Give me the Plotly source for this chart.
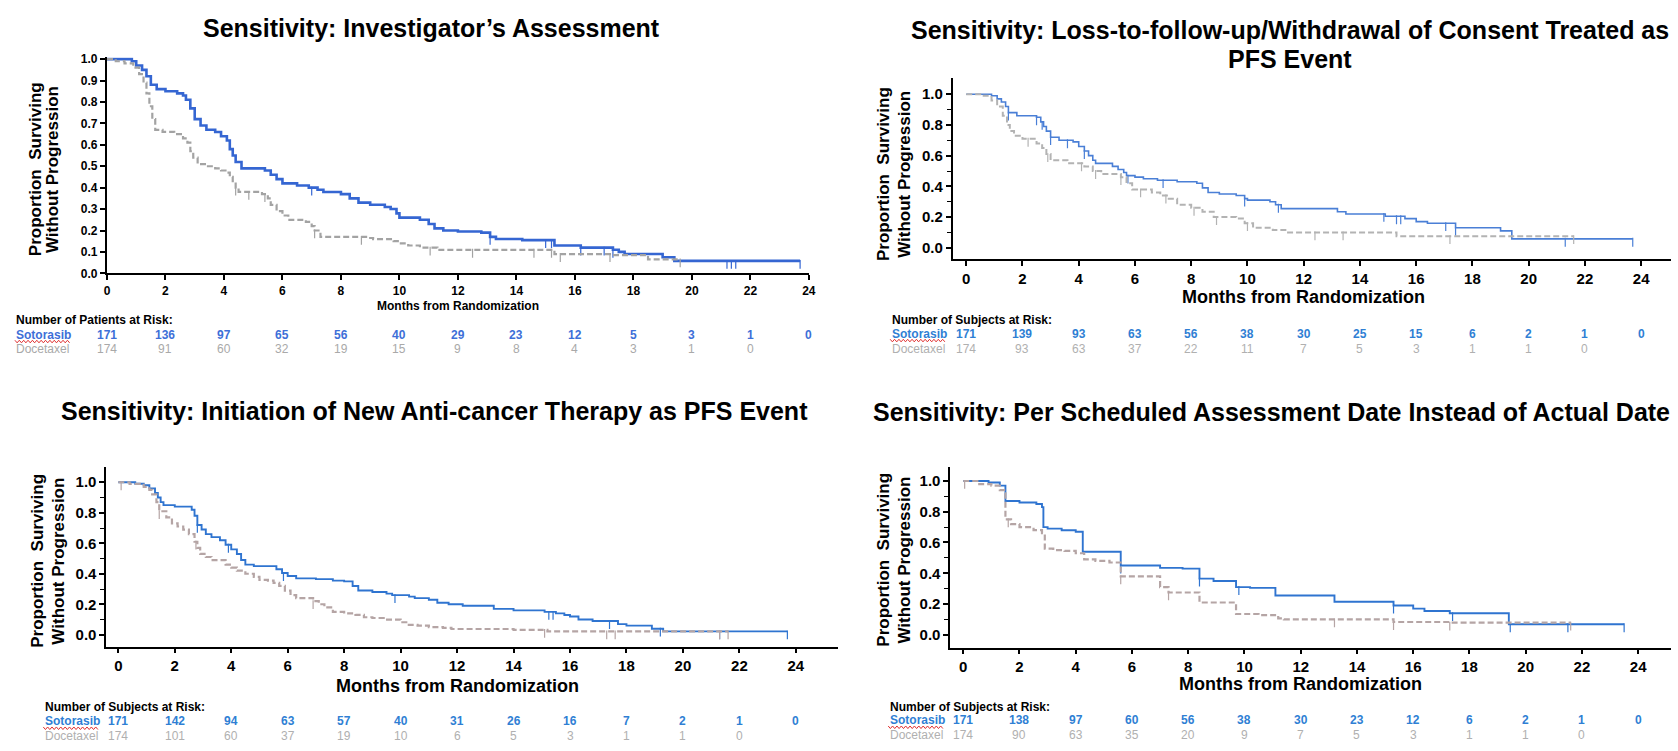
import numpy as np
import plotly.graph_objects as go

W, H = 1678, 751
FONT = "Liberation Sans, Arial, Helvetica, sans-serif"

months = list(range(0, 25, 2))

# ---------------- Sensitivity: Investigator's Assessment ----------------
inv_soto_t = [0, 0.85, 1.0, 1.2, 1.35, 1.5, 1.7, 2.0, 2.4, 2.6, 2.7, 2.85, 3.0, 3.2, 3.4, 3.7, 3.9, 4.1, 4.2, 4.3,
              4.4, 4.6, 5.4, 5.6, 5.8, 6.0, 6.5, 6.9, 7.2, 7.4, 8.0, 8.3, 8.6, 9.0, 9.5, 9.7, 9.9, 10.0, 10.7, 11.0,
              11.2, 11.5, 12.0, 12.8, 13.1, 13.3, 14.2, 15.3, 16.2, 17.3, 17.5, 17.7, 19.0, 19.4, 23.7]
inv_soto_s = [1.0, 0.99, 0.97, 0.95, 0.92, 0.88, 0.86, 0.85, 0.84, 0.83, 0.81, 0.77, 0.72, 0.69, 0.67, 0.66, 0.64,
              0.62, 0.58, 0.55, 0.52, 0.49, 0.48, 0.46, 0.44, 0.42, 0.41, 0.40, 0.39, 0.38, 0.37, 0.35, 0.33, 0.32,
              0.31, 0.30, 0.28, 0.26, 0.25, 0.23, 0.21, 0.20, 0.195, 0.19, 0.17, 0.16, 0.155, 0.13, 0.12, 0.11, 0.10,
              0.09, 0.075, 0.058, 0.058]
inv_doce_t = [0, 0.3, 0.6, 0.9, 1.1, 1.25, 1.35, 1.45, 1.55, 1.65, 1.9, 2.3, 2.6, 2.75, 2.85, 2.95, 3.1, 3.4, 3.7,
              3.9, 4.1, 4.2, 4.3, 4.4, 4.5, 5.3, 5.5, 5.6, 5.8, 6.0, 6.2, 6.8, 7.0, 7.1, 7.3, 8.9, 9.1, 9.8, 10.0,
              10.3, 10.7, 11.3, 15.3, 17.3, 18.5, 19.6]
inv_doce_s = [1.0, 0.99, 0.98, 0.96, 0.93, 0.89, 0.84, 0.78, 0.72, 0.67, 0.66, 0.65, 0.63, 0.61, 0.57, 0.54, 0.51,
              0.50, 0.49, 0.48, 0.47, 0.45, 0.43, 0.40, 0.38, 0.37, 0.35, 0.32, 0.29, 0.27, 0.25, 0.24, 0.22, 0.20,
              0.17, 0.165, 0.16, 0.15, 0.14, 0.13, 0.12, 0.11, 0.09, 0.085, 0.065, 0.065]
inv_soto_cens = [7.0, 13.1, 15.0, 15.2, 16.2, 17.0, 17.3, 21.2, 21.35, 21.5, 23.7]
inv_doce_cens = [4.4, 4.85, 5.4, 7.1, 8.7, 11.05, 12.5, 14.6, 15.2, 15.5, 17.2, 19.6]
inv_risk_soto = [171, 136, 97, 65, 56, 40, 29, 23, 12, 5, 3, 1, 0]
inv_risk_doce = [174, 91, 60, 32, 19, 15, 9, 8, 4, 3, 1, 0]

# ------- Sensitivity: Loss-to-follow-up/Withdrawal of Consent as event -------
ltf_soto_t = [0, 0.9, 1.1, 1.25, 1.4, 1.5, 1.8, 2.5, 2.65, 2.75, 2.85, 3.0, 3.3, 3.8, 4.0, 4.2, 4.35, 4.5, 4.6, 5.2,
              5.4, 5.6, 5.7, 6.0, 6.3, 6.8, 7.5, 8.2, 8.4, 8.6, 9.0, 9.6, 9.9, 10.0, 10.8, 11.0, 11.2, 13.2, 13.5,
              14.9, 15.6, 16.0, 16.4, 17.4, 19.0, 19.4, 23.7]
ltf_soto_s = [1.0, 0.99, 0.97, 0.95, 0.92, 0.88, 0.86, 0.85, 0.82, 0.79, 0.76, 0.72, 0.70, 0.69, 0.66, 0.63, 0.60,
              0.57, 0.55, 0.53, 0.51, 0.49, 0.47, 0.46, 0.45, 0.44, 0.43, 0.42, 0.39, 0.36, 0.35, 0.34, 0.32, 0.31,
              0.30, 0.28, 0.255, 0.235, 0.22, 0.205, 0.19, 0.17, 0.16, 0.13, 0.11, 0.058, 0.058]
ltf_doce_t = [0, 0.5, 0.9, 1.1, 1.3, 1.45, 1.55, 1.7, 2.0, 2.5, 2.7, 2.85, 3.0, 3.6, 4.2, 4.5, 4.8, 5.5, 5.7, 5.9,
              6.6, 6.9, 7.2, 7.5, 8.0, 8.4, 8.8, 9.6, 9.9, 10.2, 10.9, 11.4, 15.3, 21.6]
ltf_doce_s = [1.0, 0.99, 0.96, 0.92, 0.86, 0.80, 0.76, 0.73, 0.71, 0.68, 0.65, 0.61, 0.57, 0.55, 0.53, 0.50, 0.48,
              0.46, 0.42, 0.38, 0.36, 0.34, 0.32, 0.28, 0.26, 0.235, 0.20, 0.19, 0.16, 0.13, 0.115, 0.10, 0.075,
              0.075]
ltf_soto_cens = [1.5, 2.5, 2.7, 3.0, 3.6, 4.2, 5.75, 7.0, 9.9, 11.1, 14.85, 15.3, 15.45, 17.05, 17.4, 21.3, 23.7]
ltf_doce_cens = [2.2, 2.9, 4.1, 4.6, 5.5, 6.2, 7.1, 8.1, 8.9, 10.0, 12.4, 13.4, 17.2, 21.6]
ltf_risk_soto = [171, 139, 93, 63, 56, 38, 30, 25, 15, 6, 2, 1, 0]
ltf_risk_doce = [174, 93, 63, 37, 22, 11, 7, 5, 3, 1, 1, 0]

# ------- Sensitivity: Initiation of New Anti-cancer Therapy as PFS Event -------
nat_soto_t = [0, 0.6, 0.9, 1.1, 1.3, 1.4, 1.5, 1.6, 2.0, 2.6, 2.7, 2.8, 2.95, 3.1, 3.3, 3.6, 3.8, 4.0, 4.2, 4.35,
              4.5, 4.8, 5.6, 5.8, 6.0, 6.3, 7.0, 7.6, 8.0, 8.3, 8.5, 9.0, 9.5, 9.7, 10.3, 10.5, 11.0, 11.3, 11.7,
              12.2, 13.3, 14.0, 15.1, 15.5, 15.8, 16.0, 16.3, 16.8, 17.7, 18.0, 18.9, 19.3, 23.7]
nat_soto_s = [1.0, 0.99, 0.98, 0.96, 0.93, 0.90, 0.87, 0.85, 0.84, 0.82, 0.78, 0.72, 0.69, 0.66, 0.64, 0.62, 0.59,
              0.56, 0.53, 0.49, 0.46, 0.45, 0.43, 0.405, 0.385, 0.37, 0.365, 0.355, 0.35, 0.32, 0.29, 0.28, 0.27,
              0.26, 0.25, 0.24, 0.23, 0.21, 0.20, 0.19, 0.17, 0.16, 0.15, 0.14, 0.13, 0.12, 0.10, 0.09, 0.07, 0.06,
              0.04, 0.022, 0.022]
nat_doce_t = [0, 0.4, 0.9, 1.1, 1.2, 1.35, 1.45, 1.7, 1.9, 2.1, 2.3, 2.5, 2.7, 2.8, 2.9, 3.1, 3.3, 3.8, 4.0, 4.2,
              4.5, 4.8, 5.0, 5.3, 5.5, 5.7, 5.9, 6.1, 6.3, 6.9, 7.1, 7.3, 7.6, 8.0, 8.4, 8.7, 9.0, 9.4, 10.0, 10.2,
              10.6, 11.0, 11.5, 11.8, 14.0, 15.2, 21.6]
nat_doce_s = [1.0, 0.99, 0.97, 0.95, 0.92, 0.87, 0.81, 0.77, 0.73, 0.71, 0.69, 0.66, 0.61, 0.57, 0.53, 0.51, 0.49,
              0.46, 0.44, 0.42, 0.40, 0.38, 0.36, 0.355, 0.34, 0.32, 0.29, 0.26, 0.24, 0.22, 0.20, 0.18, 0.15,
              0.14, 0.13, 0.115, 0.11, 0.10, 0.082, 0.065, 0.06, 0.05, 0.045, 0.038, 0.032, 0.022, 0.022]
nat_soto_cens = [2.8, 3.9, 5.85, 9.8, 15.25, 15.4, 17.4, 19.2, 21.3, 23.7]
nat_doce_cens = [0.1, 1.45, 2.75, 6.9, 15.1, 17.3, 17.6, 21.3, 21.6]
nat_risk_soto = [171, 142, 94, 63, 57, 40, 31, 26, 16, 7, 2, 1, 0]
nat_risk_doce = [174, 101, 60, 37, 19, 10, 6, 5, 3, 1, 1, 0]

# ------- Sensitivity: Per Scheduled Assessment Date Instead of Actual Date -------
sch_soto_t = [0, 0.9, 1.3, 1.5, 2.0, 2.6, 2.8, 2.85, 3.0, 3.5, 4.0, 4.25, 5.6, 7.0, 7.8, 8.4, 8.9, 9.7, 10.2, 11.1,
              13.2, 15.3, 16.0, 16.4, 17.3, 19.4, 23.5]
sch_soto_s = [1.0, 0.99, 0.97, 0.87, 0.86, 0.85, 0.83, 0.70, 0.69, 0.68, 0.67, 0.54, 0.45, 0.435, 0.43, 0.365,
              0.35, 0.31, 0.305, 0.255, 0.215, 0.19, 0.17, 0.155, 0.14, 0.068, 0.068]
sch_doce_t = [0, 0.5, 1.0, 1.3, 1.45, 1.5, 1.7, 2.0, 2.5, 2.8, 2.9, 3.2, 3.6, 4.0, 4.3, 4.7, 5.2, 5.6, 7.0, 7.3,
              8.4, 9.7, 10.5, 11.2, 11.4, 15.3, 17.3, 21.6]
sch_doce_s = [1.0, 0.98, 0.97, 0.94, 0.92, 0.75, 0.72, 0.70, 0.68, 0.66, 0.56, 0.55, 0.545, 0.53, 0.49, 0.48, 0.47,
              0.38, 0.31, 0.275, 0.21, 0.135, 0.128, 0.107, 0.10, 0.083, 0.079, 0.079]
sch_soto_cens = [5.6, 8.4, 9.8, 15.3, 17.4, 19.45, 21.5, 23.5]
sch_doce_cens = [0.05, 1.6, 5.6, 7.3, 13.2, 15.3, 17.3, 21.6]
sch_risk_soto = [171, 138, 97, 60, 56, 38, 30, 23, 12, 6, 2, 1, 0]
sch_risk_doce = [174, 90, 63, 35, 20, 9, 7, 5, 3, 1, 1, 0]

arms = ["Sotorasib", "Docetaxel"]

panels = [
    dict(title=["Sensitivity: Investigator\u2019s Assessment"], title_x=431, title_y=[23],
         risk_head="Number of Patients at Risk:",
         curves=[(inv_soto_t, inv_soto_s, inv_soto_cens), (inv_doce_t, inv_doce_s, inv_doce_cens)],
         risk=[inv_risk_soto, inv_risk_doce],
         left=104.6, right=810.7, x0=104.6, x24=810.7, top=53, bottom=272.7, y1=55, y0=272.7,
         ydtick=0.1, minor=False, tick_size=12, xtitle_size=12, xtitle_y=306,
         ytitle_x=(33, 50), ytitle_y=167, risk_x=11.5, risk_y=(320, 335, 350),
         soto_col="#3566d2", doce_col="#a3a3a3", soto_w=2.6, doce_w=2.2, axis_w=2.2,
         risk_soto_col="#3d6fd8", risk_doce_col="#a9a9a9"),
    dict(title=["Sensitivity: Loss-to-follow-up/Withdrawal of Consent Treated as", "PFS Event"],
         title_x=1295, title_y=[25, 55], risk_head="Number of Subjects at Risk:",
         curves=[(ltf_soto_t, ltf_soto_s, ltf_soto_cens), (ltf_doce_t, ltf_doce_s, ltf_doce_cens)],
         risk=[ltf_risk_soto, ltf_risk_doce],
         left=955.5, right=1678, x0=969, x24=1648, top=74, bottom=258, y1=90.7, y0=246.7,
         ydtick=0.2, minor=True, tick_size=15, xtitle_size=18, xtitle_y=297,
         ytitle_x=(886, 907), ytitle_y=172, risk_x=892, risk_y=(320, 334, 350),
         soto_col="#4a7fd6", doce_col="#b3b3b3", soto_w=1.6, doce_w=2.0, axis_w=1.8,
         risk_soto_col="#2f7fd4", risk_doce_col="#b0b0b0"),
    dict(title=["Sensitivity: Initiation of New Anti-cancer Therapy as PFS Event"], title_x=434, title_y=[413],
         risk_head="Number of Subjects at Risk:",
         curves=[(nat_soto_t, nat_soto_s, nat_soto_cens), (nat_doce_t, nat_doce_s, nat_doce_cens)],
         risk=[nat_risk_soto, nat_risk_doce],
         left=104, right=840, x0=116, x24=797.6, top=469, bottom=652, y1=485, y0=640,
         ydtick=0.2, minor=True, tick_size=15, xtitle_size=18, xtitle_y=692,
         ytitle_x=(35, 56), ytitle_y=565, risk_x=40, risk_y=(713, 728, 743),
         soto_col="#2f74d0", doce_col="#b5a5a5", soto_w=1.9, doce_w=2.2, axis_w=1.8,
         risk_soto_col="#2f7fd4", risk_doce_col="#b0b0b0"),
    dict(title=["Sensitivity: Per Scheduled Assessment Date Instead of Actual Date"], title_x=1276, title_y=[414],
         risk_head="Number of Subjects at Risk:",
         curves=[(sch_soto_t, sch_soto_s, sch_soto_cens), (sch_doce_t, sch_doce_s, sch_doce_cens)],
         risk=[sch_risk_soto, sch_risk_doce],
         left=953, right=1678, x0=966, x24=1645, top=469, bottom=653, y1=483.7, y0=640,
         ydtick=0.2, minor=True, tick_size=15, xtitle_size=18, xtitle_y=690,
         ytitle_x=(886, 907), ytitle_y=564, risk_x=890, risk_y=(713, 727, 742),
         soto_col="#2f74d0", doce_col="#b5a5a5", soto_w=1.9, doce_w=2.2, axis_w=1.8,
         risk_soto_col="#2f7fd4", risk_doce_col="#b0b0b0"),
]


def px(x):
    return x / W


def py(y):
    return 1 - y / H


def survival_at(t, s, c):
    i = np.searchsorted(np.asarray(t), c, side="right") - 1
    return s[max(i, 0)]


fig = go.Figure()
annotations = []
shapes = []
layout = {}

for k, p in enumerate(panels):
    n = "" if k == 0 else str(k + 1)
    xref, yref = "x" + n, "y" + n
    ppm = (p["x24"] - p["x0"]) / 24.0
    ppu = p["y0"] - p["y1"]
    xr = [(p["left"] - p["x0"]) / ppm, (p["right"] - p["x0"]) / ppm]
    yr = [(p["y0"] - p["bottom"]) / ppu, (p["y0"] - p["top"]) / ppu]

    # survival curves and censoring ticks
    for j, (t, s, cens) in enumerate(p["curves"]):
        col = p["soto_col"] if j == 0 else p["doce_col"]
        lw = p["soto_w"] if j == 0 else p["doce_w"]
        fig.add_trace(go.Scatter(
            x=t, y=s, mode="lines", xaxis=xref, yaxis=yref, name=arms[j], showlegend=False,
            line=dict(shape="hv", color=col, width=lw, dash="solid" if j == 0 else "6px,3px")))
        cx, cy = [], []
        for c in cens:
            v = survival_at(t, s, c)
            cx += [c, c, None]
            cy += [v + 1.0 / ppu, v - 8.0 / ppu, None]
        fig.add_trace(go.Scatter(
            x=cx, y=cy, mode="lines", xaxis=xref, yaxis=yref, showlegend=False, hoverinfo="skip",
            line=dict(color=col, width=1.2)))

    tickfont = dict(family=FONT, size=p["tick_size"], color="black", weight="bold")
    xa = dict(domain=[px(p["left"]), px(p["right"])], range=xr, anchor=yref,
              showline=True, linecolor="black", linewidth=p["axis_w"], ticks="outside", ticklen=5,
              tickwidth=1.6, tickcolor="black", tickmode="array", tickvals=months,
              showgrid=False, zeroline=False, tickfont=tickfont, fixedrange=True)
    if p["minor"]:
        yvals = [0.0, 0.2, 0.4, 0.6, 0.8, 1.0]
    else:
        yvals = [round(0.1 * i, 1) for i in range(11)]
    ya = dict(domain=[py(p["bottom"]), py(p["top"])], range=yr, anchor=xref,
              showline=True, linecolor="black", linewidth=p["axis_w"], ticks="outside", ticklen=5,
              tickwidth=1.6, tickcolor="black", tickmode="array", tickvals=yvals,
              ticktext=[f"{v:.1f}" for v in yvals],
              showgrid=False, zeroline=False, tickfont=tickfont, fixedrange=True)
    if p["minor"]:
        ya["minor"] = dict(tickmode="array", tickvals=[0.1, 0.3, 0.5, 0.7, 0.9], ticklen=4,
                           tickwidth=1.4, tickcolor="black", ticks="outside")
    layout["xaxis" + n] = xa
    layout["yaxis" + n] = ya

    # panel title
    for line, ty in zip(p["title"], p["title_y"]):
        annotations.append(dict(text="<b>" + line + "</b>", x=px(p["title_x"]), y=py(ty),
                                xref="paper", yref="paper", xanchor="center", yanchor="middle",
                                showarrow=False, font=dict(family=FONT, size=25, color="black")))
    # axis titles
    annotations.append(dict(text="<b>Months from Randomization</b>",
                            x=px((p["x0"] + p["x24"]) / 2), y=py(p["xtitle_y"]),
                            xref="paper", yref="paper", xanchor="center", yanchor="middle",
                            showarrow=False, font=dict(family=FONT, size=p["xtitle_size"], color="black")))
    for line, lx in zip(["Proportion\u00a0\u00a0Surviving", "Without Progression"], p["ytitle_x"]):
        annotations.append(dict(text="<b>" + line + "</b>", x=px(lx), y=py(p["ytitle_y"]),
                                xref="paper", yref="paper", xanchor="center", yanchor="middle",
                                textangle=-90, showarrow=False,
                                font=dict(family=FONT, size=17, color="black")))

    # number at risk table
    hy, sy, dy = p["risk_y"]
    annotations.append(dict(text="<b>" + p["risk_head"] + "</b>", x=px(p["risk_x"]), y=py(hy),
                            xref="paper", yref="paper", xanchor="left", yanchor="middle",
                            showarrow=False, font=dict(family=FONT, size=12, color="black")))
    annotations.append(dict(text="<b>Sotorasib</b>", x=px(p["risk_x"]), y=py(sy),
                            xref="paper", yref="paper", xanchor="left", yanchor="middle",
                            showarrow=False, font=dict(family=FONT, size=12, color=p["risk_soto_col"])))
    annotations.append(dict(text="Docetaxel", x=px(p["risk_x"]), y=py(dy),
                            xref="paper", yref="paper", xanchor="left", yanchor="middle",
                            showarrow=False, font=dict(family=FONT, size=12, color=p["risk_doce_col"])))
    for m, v in zip(months, p["risk"][0]):
        annotations.append(dict(text="<b>%d</b>" % v, x=m, y=py(sy), xref=xref, yref="paper",
                                xanchor="center", yanchor="middle", showarrow=False,
                                font=dict(family=FONT, size=12, color=p["risk_soto_col"])))
    for m, v in zip(months, p["risk"][1]):
        annotations.append(dict(text="%d" % v, x=m, y=py(dy), xref=xref, yref="paper",
                                xanchor="center", yanchor="middle", showarrow=False,
                                font=dict(family=FONT, size=12, color=p["risk_doce_col"])))

    # wavy spell-check underline beneath the Sotorasib label
    x_start, x_end, base = p["risk_x"] + 0.5, p["risk_x"] + 57, sy + 7
    pts, xx, up = [], x_start, True
    while xx <= x_end:
        pts.append((px(xx), py(base - 1.3 if up else base + 1.3)))
        xx += 2.2
        up = not up
    path = "M " + " L ".join("%.6f,%.6f" % q for q in pts)
    shapes.append(dict(type="path", path=path, xref="paper", yref="paper",
                       line=dict(color="#e03030", width=1)))

fig.update_layout(
    width=W, height=H, margin=dict(l=0, r=0, t=0, b=0),
    paper_bgcolor="white", plot_bgcolor="white", showlegend=False,
    font=dict(family=FONT, color="black"),
    annotations=annotations, shapes=shapes, **layout)

fig.write_html("out.html")
